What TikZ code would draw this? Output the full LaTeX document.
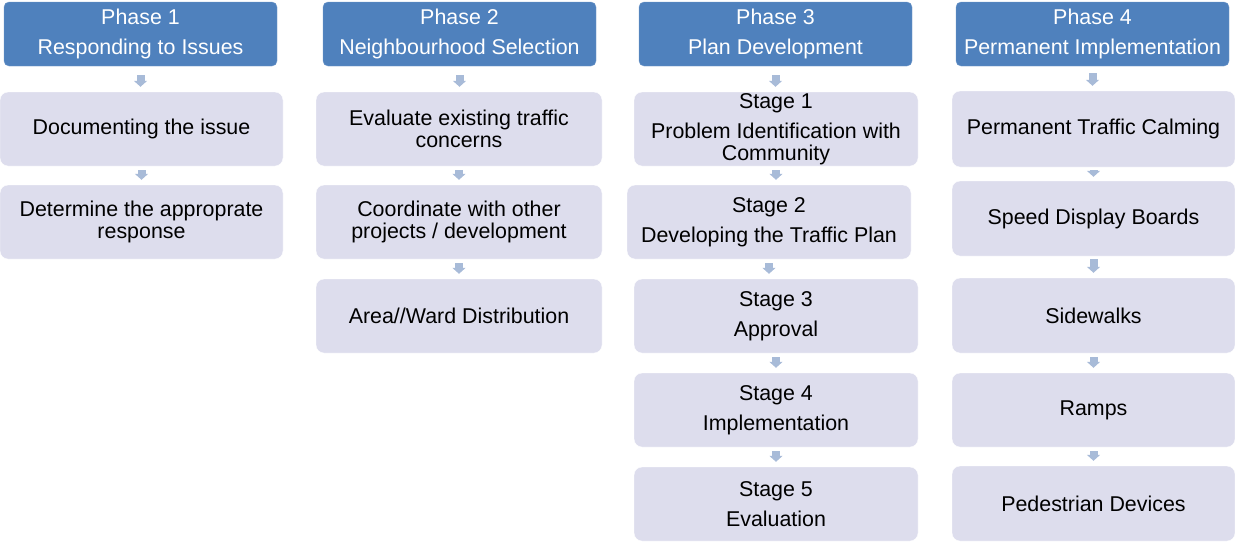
\documentclass[tikz,border=0pt]{standalone}
\usepackage{fontspec}
\setmainfont{Liberation Sans}
\usetikzlibrary{arrows.meta}
\definecolor{phaseblue}{RGB}{79,129,189}
\definecolor{steplilac}{RGB}{221,221,237}
\definecolor{arrowgrey}{RGB}{168,187,216}
\tikzset{
    phase/.style={draw=phaseblue!80!white, fill=phaseblue, rounded corners=5pt, text=white,
        align=center, minimum width=273pt, minimum height=64pt, inner sep=0pt,
        font=\fontsize{21.4}{22}\selectfont},
    item/.style={draw=white, fill=steplilac, rounded corners=8pt, align=center,
        minimum width=283pt, minimum height=74pt, inner sep=0pt,
        font=\fontsize{21.4}{22}\selectfont},
    flow/.style={draw=arrowgrey, line width=8pt, -{Triangle[width=13pt,length=6pt]},
        shorten <=4pt, shorten >=5pt},
    headflow/.style={flow, shorten <=9pt}
}
\begin{document}
\begin{tikzpicture}[x=1pt,y=-1pt]
                    \useasboundingbox (0,0) rectangle (1235,542);
                    \node[phase] (p1) at (140.5,34) {Phase 1\\[8pt]Responding to Issues};
                    \node[item] (p1a) at (141.5,129) {Documenting the issue};
                    \node[item] (p1b) at (141.5,222) {Determine the approprate\\response};

                    \node[phase] (p2) at (459.5,34) {Phase 2\\[8pt]Neighbourhood Selection};
                    \node[item,minimum width=286pt] (p2a) at (459,129) {Evaluate existing traffic\\concerns};
                    \node[item,minimum width=286pt] (p2b) at (459,222) {Coordinate with other\\projects / development};
                    \node[item,minimum width=286pt] (p2c) at (459,316) {Area//Ward Distribution};

                    \node[phase] (p3) at (775.5,34) {Phase 3\\[8pt]Plan Development};
                    \node[item,minimum width=284pt] (s1) at (776,129) {Stage 1\\[8pt]Problem Identification with\\Community};
                    \node[item,minimum width=284pt] (s2) at (769,222) {Stage 2\\[8pt]Developing the Traffic Plan};
                    \node[item,minimum width=284pt] (s3) at (776,316) {Stage 3\\[8pt]Approval};
                    \node[item,minimum width=284pt] (s4) at (776,410) {Stage 4\\[8pt]Implementation};
                    \node[item,minimum width=284pt] (s5) at (776,504) {Stage 5\\[8pt]Evaluation};

                    \node[phase] (p4) at (1092.5,34) {Phase 4\\[8pt]Permanent Implementation};
                    \node[item,minimum height=76pt] (p4a) at (1093.5,129) {Permanent Traffic Calming};
                    \node[item,minimum height=75pt] (p4b) at (1093.5,218.5) {Speed Display Boards};
                    \node[item,minimum height=75pt] (p4c) at (1093.5,315.5) {Sidewalks};
                    \node[item] (p4d) at (1093.5,410) {Ramps};
                    \node[item,minimum height=75pt] (p4e) at (1093.5,503.5) {Pedestrian Devices};

                    \draw[headflow] (p1) -- (p1 |- p1a.north);
                    \draw[flow] (p1a) -- (p1b);
                    \draw[headflow] (p2) -- (p2 |- p2a.north);
                    \draw[flow] (p2a) -- (p2b);
                    \draw[flow] (p2b) -- (p2c);
                    \draw[headflow] (p3) -- (p3 |- s1.north);
                    \draw[flow] (s1.south) -- (s1.south |- s2.north);
                    \draw[flow] (s2.south) -- (s2.south |- s3.north);
                    \draw[flow] (s3) -- (s4);
                    \draw[flow] (s4) -- (s5);
                    \draw[headflow,shorten <=7pt] (p4) -- (p4 |- p4a.north);
                    \draw[flow,shorten <=3pt,shorten >=4pt] (p4a) -- (p4b);
                    \draw[flow,shorten <=3pt] (p4b) -- (p4c);
                    \draw[flow] (p4c) -- (p4d);
                    \draw[flow] (p4d) -- (p4e);
\end{tikzpicture}
\end{document}
